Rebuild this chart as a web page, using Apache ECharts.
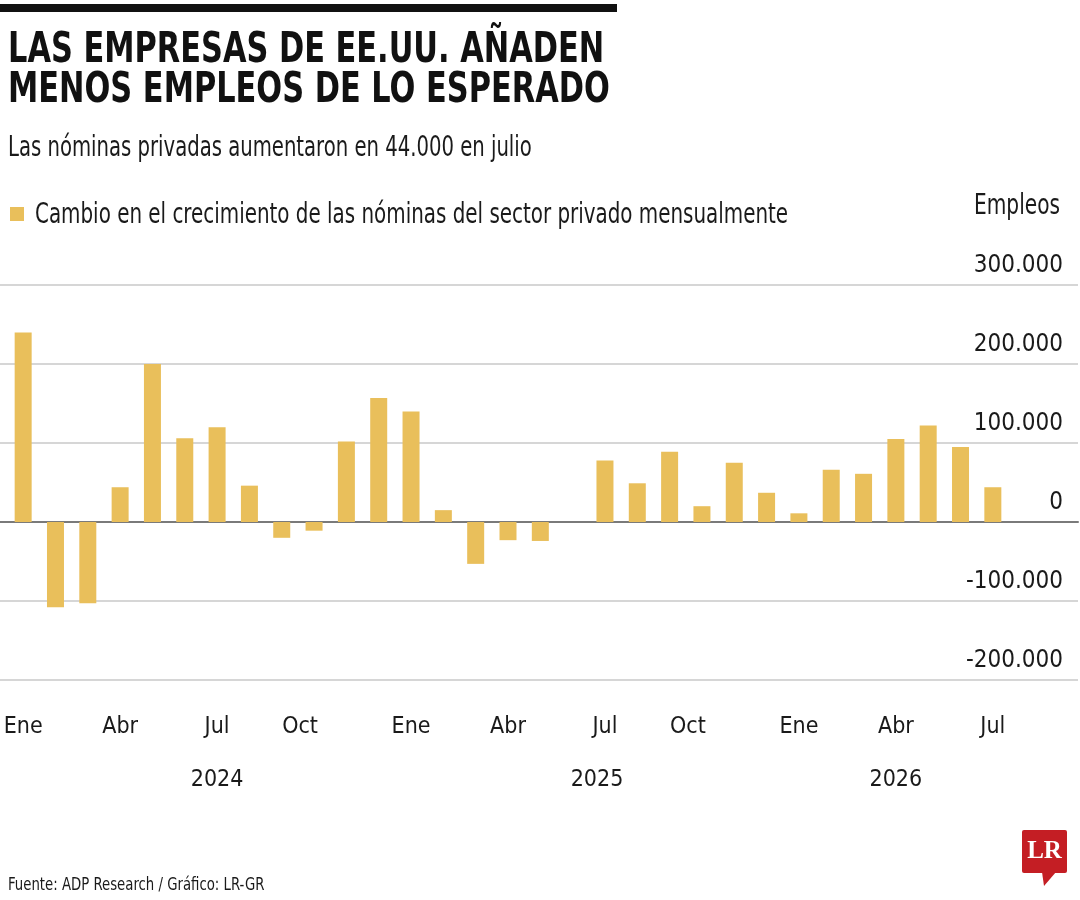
<!DOCTYPE html>
<html>
<head>
<meta charset="utf-8">
<script src="https://cdn.jsdelivr.net/npm/echarts@6/dist/echarts.min.js"></script>
<style>
  html, body { margin: 0; padding: 0; background: #fff; }
  #chart { width: 1080px; height: 900px; }
</style>
</head>
<body>
<div id="chart"></div>
<script>
// meses de ene 2024 a jul 2026
const meses = ['Ene','Feb','Mar','Abr','May','Jun','Jul','Ago','Sep','Oct','Nov','Dic',
  'Ene','Feb','Mar','Abr','May','Jun','Jul','Ago','Sep','Oct','Nov','Dic',
  'Ene','Feb','Mar','Abr','May','Jun','Jul'];
const anios = ['2024','2024','2024','2024','2024','2024','2024','2024','2024','2024','2024','2024',
  '2025','2025','2025','2025','2025','2025','2025','2025','2025','2025','2025','2025',
  '2026','2026','2026','2026','2026','2026','2026'];
// cambio mensual de nóminas privadas (empleos)
const cambio = [240000, -108000, -103000, 44000, 200000, 106000, 120000, 46000, -20000, -11000, 102000, 157000,
  140000, 15000, -53000, -23000, -24000, 0, 78000, 49000, 89000, 20000, 75000, 37000,
  11000, 66000, 61000, 105000, 122000, 95000, 44000];
const idxAnios = [6, 18, 27]; // donde va la etiqueta del año

const FONT = "'Liberation Sans Narrow', 'DejaVu Sans Condensed', 'Roboto Condensed', sans-serif";
const AMARILLO = '#E9BF5B';
const SERIE = 'Cambio en el crecimiento de las nóminas del sector privado mensualmente';

const chart = echarts.init(document.getElementById('chart'));

// formato con punto de miles
function miles(v) {
  const s = Math.abs(v).toString().replace(/\B(?=(\d{3})+(?!\d))/g, '.');
  return (v < 0 ? '-' : '') + s;
}

// texto estrecho: la fuente disponible es más ancha que la original
function texto(x, y, txt, font, sx, extra) {
  return {
    type: 'text', x: x, y: y, scaleX: sx,
    style: Object.assign({ x: 0, y: 0, text: txt, font: font, fill: '#1a1a1a', verticalAlign: 'top' }, extra || {})
  };
}

chart.setOption({
  animation: false,
  grid: [
    { left: 0, right: 2, top: 285, height: 395 },   // solo para la rejilla
    { left: 7, width: 1002, top: 285, height: 395 }  // barras
  ],
  xAxis: [
    { gridIndex: 0, type: 'value', min: 0, max: 1, show: true,
      axisLine: { show: true, onZero: true, lineStyle: { color: '#7a7a7a', width: 2 } },
      axisTick: { show: false }, axisLabel: { show: false }, splitLine: { show: false } },
    { gridIndex: 1, type: 'category', data: meses, position: 'bottom',
      axisLine: { show: false }, axisTick: { show: false },
      axisLabel: { interval: 2, margin: 36, fontFamily: FONT, fontSize: 23, color: '#1a1a1a',
        // en el original las etiquetas de octubre van algo corridas a la izquierda
        formatter: (v) => v === 'Oct' ? '{izq|' + v + '}' : v,
        rich: { izq: { fontFamily: FONT, fontSize: 23, color: '#1a1a1a', padding: [0, 28, 0, 0] } } } },
    { gridIndex: 1, type: 'category', data: anios, position: 'bottom', offset: 55,
      axisLine: { show: false }, axisTick: { show: false },
      axisLabel: { interval: (i) => idxAnios.includes(i), margin: 34, fontFamily: FONT, fontSize: 23, color: '#1a1a1a',
        formatter: (v) => v === '2025' ? '{izq|' + v + '}' : v,
        rich: { izq: { fontFamily: FONT, fontSize: 23, color: '#1a1a1a', padding: [0, 16, 0, 0] } } } }
  ],
  yAxis: [
    { gridIndex: 0, type: 'value', min: -200000, max: 300000, interval: 100000, position: 'right',
      axisLine: { show: false }, axisTick: { show: false },
      splitLine: { lineStyle: { color: '#c8c8c8', width: 1.5 } },
      axisLabel: { inside: true, margin: 15, verticalAlign: 'bottom', padding: [0, 0, 7, 0],
        fontFamily: FONT, fontSize: 24, color: '#1a1a1a', formatter: miles } },
    { gridIndex: 1, type: 'value', min: -200000, max: 300000, interval: 100000, show: false }
  ],
  series: [{
    name: SERIE, type: 'bar', xAxisIndex: 1, yAxisIndex: 1,
    data: cambio, barWidth: 17, itemStyle: { color: AMARILLO }
  }],
  graphic: [
    { type: 'rect', x: 0, y: 4, shape: { width: 617, height: 8 }, style: { fill: '#111' } },
    texto(8, 31, 'LAS EMPRESAS DE EE.UU. AÑADEN\nMENOS EMPLEOS DE LO ESPERADO',
      'bold 42px ' + FONT, 0.805, { fill: '#111', lineHeight: 40 }),
    texto(8, 135, 'Las nóminas privadas aumentaron en 44.000 en julio', '28px ' + FONT, 0.78),
    { type: 'rect', x: 10, y: 207, shape: { width: 14, height: 14 }, style: { fill: AMARILLO } },
    texto(35, 202, SERIE, '28px ' + FONT, 0.79),
    texto(1060, 193, 'Empleos', '28px ' + FONT, 0.80, { align: 'right' }),
    texto(8, 876, 'Fuente: ADP Research / Gráfico: LR-GR', '18px ' + FONT, 0.82),
    { type: 'group', x: 1022, y: 830, children: [
      { type: 'rect', shape: { x: 0, y: 0, width: 45, height: 43, r: 2 }, style: { fill: '#C41E24' } },
      { type: 'polygon', shape: { points: [[20, 42], [34, 42], [22, 56]] }, style: { fill: '#C41E24' } },
      { type: 'text', style: { x: 22.5, y: 22, text: 'LR', font: "bold 25px 'Liberation Serif', 'DejaVu Serif', serif",
        fill: '#fff', align: 'center', verticalAlign: 'middle' } }
    ] }
  ]
});
</script>
</body>
</html>
